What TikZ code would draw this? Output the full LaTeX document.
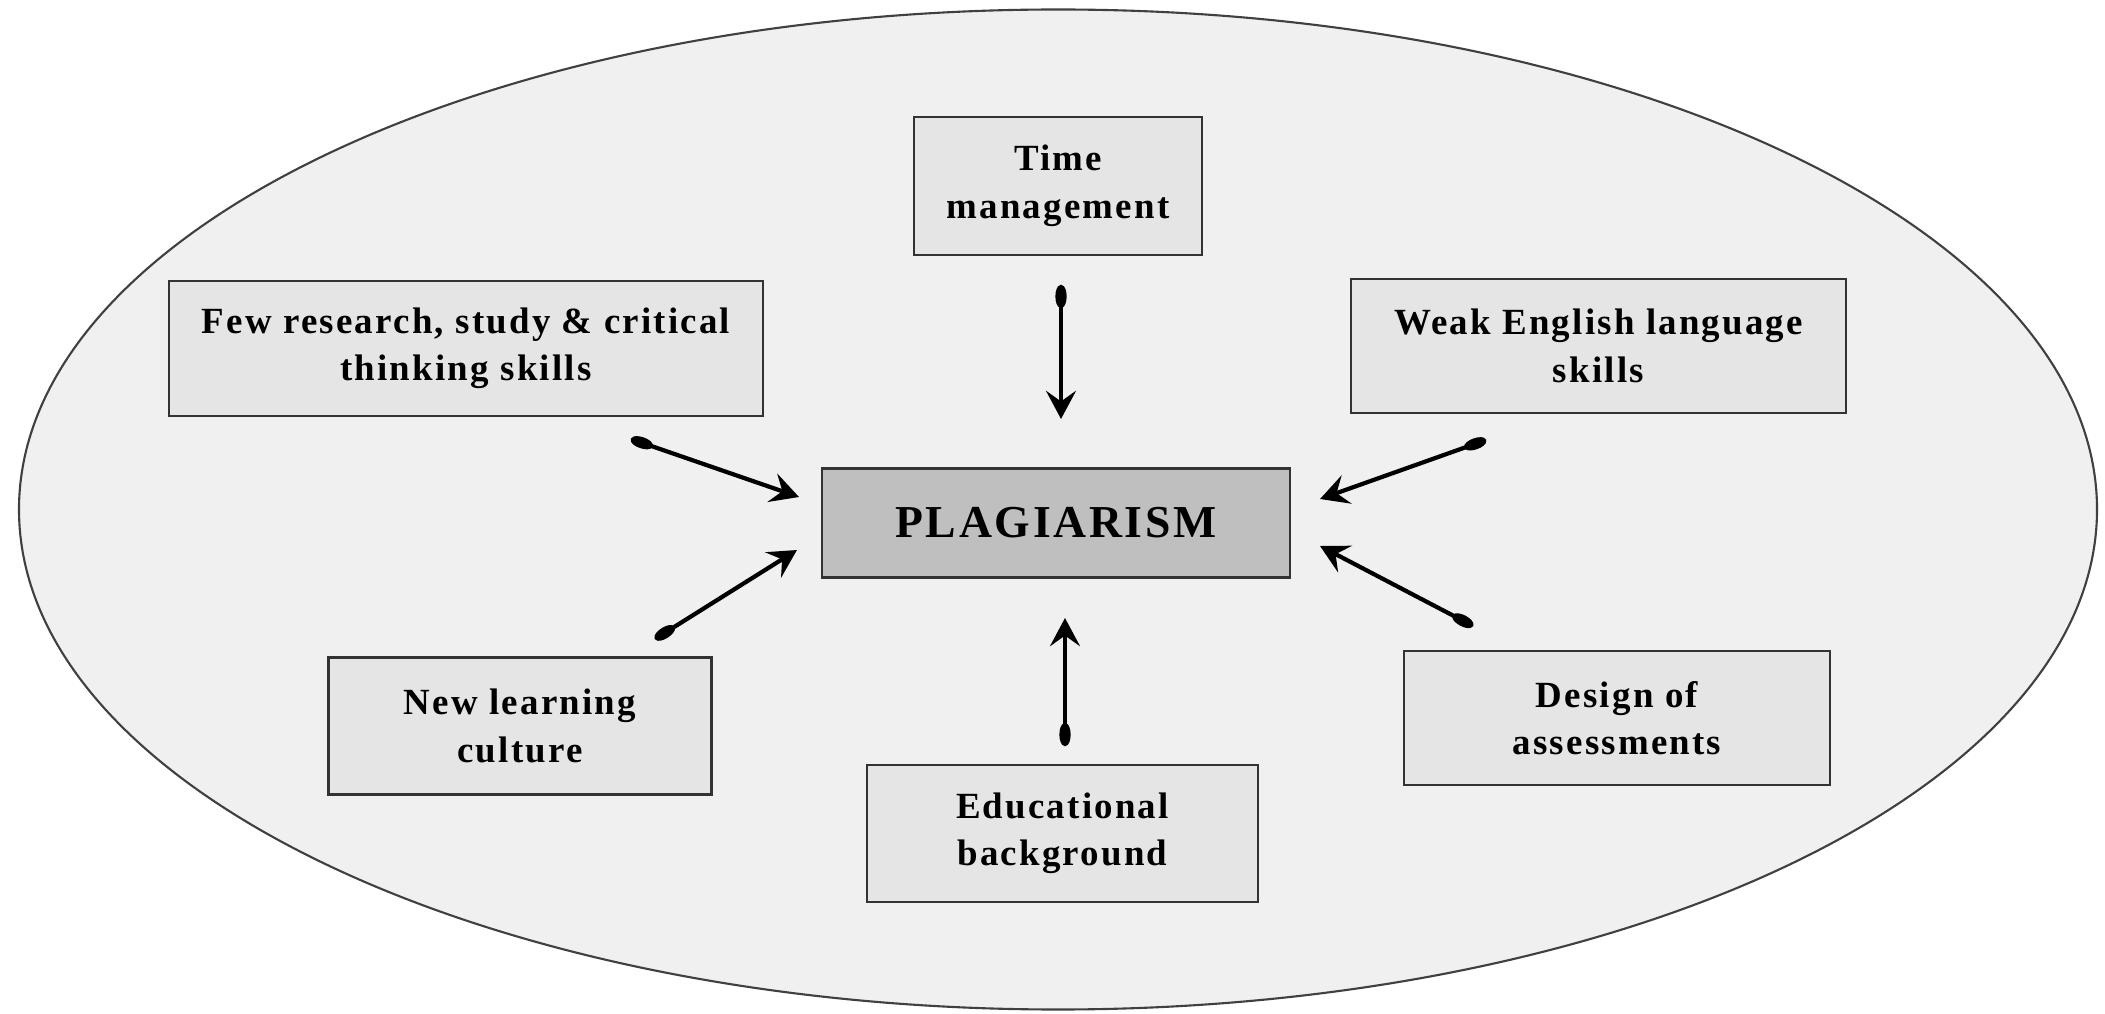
\documentclass[tikz,border=0pt]{standalone}
\usepackage{fontspec}
\setmainfont{Liberation Serif}
\newfontfamily\boxfont[LetterSpace=6]{Liberation Serif}
\newfontfamily\corefont[LetterSpace=6]{Liberation Serif}
\usetikzlibrary{arrows.meta}
\definecolor{ovalgray}{gray}{0.94}
\definecolor{boxgray}{gray}{0.90}
\definecolor{coregray}{gray}{0.75}
\tikzset{
	cause/.style={draw=black!80, fill=boxgray, line width=0.8pt, align=center, inner sep=0pt,
		font=\boxfont\bfseries\fontsize{10.5}{13.5}\selectfont},
	core/.style={draw=black!80, fill=coregray, line width=0.8pt, inner sep=0pt,
		font=\corefont\bfseries\fontsize{13}{15}\selectfont},
	push/.style={line width=1.2pt, {Ellipse[length=6.5pt,width=3.2pt]}-{Stealth[length=8pt,width=8.5pt,inset=3pt]}}
}
\begin{document}
\begin{tikzpicture}
	\useasboundingbox[fill=white] (0,0) rectangle (21.05,10.13);
	\draw [draw=black!75, fill=ovalgray, line width=0.6pt] (10.58,5.035) ellipse [x radius=10.39, y radius=5.00];

	\node[core, minimum width=4.68cm, minimum height=1.09cm] (plag) at (10.56,4.90) {PLAGIARISM};
	\node[cause, minimum width=2.88cm, minimum height=1.38cm] (time) at (10.58,8.27) {Time\\management};
	\node[cause, minimum width=5.94cm, minimum height=1.35cm] (few) at (4.66,6.645) {Few research, study \& critical\\thinking skills};
	\node[cause, minimum width=4.95cm, minimum height=1.34cm] (weak) at (15.985,6.67) {Weak English language\\skills};
	\node[cause, minimum width=3.83cm, minimum height=1.37cm] (newcult) at (5.20,2.87) {New learning\\culture};
	\node[cause, minimum width=3.91cm, minimum height=1.37cm] (edu) at (10.625,1.795) {Educational\\background};
	\node[cause, minimum width=4.26cm, minimum height=1.34cm] (design) at (16.17,2.95) {Design of\\assessments};

	\coordinate (time-t) at (10.61,7.28);    \coordinate (time-h) at (10.61,5.94);
	\coordinate (few-t) at (6.31,5.74);      \coordinate (few-h) at (7.99,5.16);
	\coordinate (weak-t) at (14.86,5.73);    \coordinate (weak-h) at (13.20,5.14);
	\coordinate (newcult-t) at (6.55,3.74);  \coordinate (newcult-h) at (7.97,4.63);
	\coordinate (edu-t) at (10.65,2.67);     \coordinate (edu-h) at (10.65,3.95);
	\coordinate (design-t) at (14.73,3.87);  \coordinate (design-h) at (13.20,4.67);

	\draw [push] (time-t) -- (time-h);
	\draw [push] (few-t) -- (few-h);
	\draw [push] (weak-t) -- (weak-h);
	\draw [push] (newcult-t) -- (newcult-h);
	\draw [push] (edu-t) -- (edu-h);
	\draw [push] (design-t) -- (design-h);
\end{tikzpicture}
\end{document}
